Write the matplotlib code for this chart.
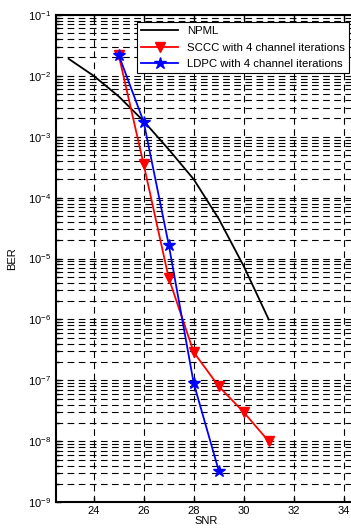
import matplotlib
matplotlib.use("Agg")
import matplotlib.pyplot as plt
from matplotlib.ticker import LogLocator, NullFormatter

# data
snr_npml = [23, 24, 25, 26, 27, 28, 29, 30, 31]
ber_npml = [1.9e-2, 1.0e-2, 4.6e-3, 1.8e-3, 6.2e-4, 2.0e-4, 4.5e-5, 7.5e-6, 1.0e-6]

snr_sccc = [25, 26, 27, 28, 29, 30, 31]
ber_sccc = [2.2e-2, 3.5e-4, 4.8e-6, 2.9e-7, 8.0e-8, 3.0e-8, 1.0e-8]

snr_ldpc = [25, 26, 27, 28, 29]
ber_ldpc = [2.2e-2, 1.75e-3, 1.7e-5, 9.0e-8, 3.3e-9]

labels = ['NPML', 'SCCC with 4 channel iterations', 'LDPC with 4 channel iterations']

plt.rcParams['font.family'] = ['Liberation Sans', 'DejaVu Sans']
plt.rcParams['font.size'] = 8

fig = plt.figure(figsize=(3.51, 5.32), dpi=100)
ax = fig.add_axes([0.16, 0.056, 0.855, 0.916])

ax.semilogy(snr_npml, ber_npml, color='black', lw=1.3, label=labels[0])
ax.semilogy(snr_sccc, ber_sccc, color='red', lw=1.3, marker='v', ms=7, label=labels[1])
ax.semilogy(snr_ldpc, ber_ldpc, color='blue', lw=1.3, marker='*', ms=9, label=labels[2])

ax.set_xlim(22.5, 34.5)
ax.set_ylim(1e-9, 1e-1)
ax.set_xticks([24, 26, 28, 30, 32, 34])
ax.set_yticks([10.0 ** e for e in range(-9, 0)])
ax.yaxis.set_minor_locator(LogLocator(base=10, subs=range(2, 10), numticks=20))
ax.yaxis.set_minor_formatter(NullFormatter())
ax.tick_params(which='both', direction='in', top=True, right=True, width=1)
ax.tick_params(which='minor', labelleft=False, labelbottom=False)
ax.tick_params(axis='x', pad=3)

ax.grid(True, which='major', ls=(0, (6, 4)), color='black', lw=0.8)
ax.grid(True, which='minor', axis='y', ls=(0, (6, 4)), color='black', lw=0.8)
for s in ax.spines.values():
    s.set_linewidth(1.5)

ax.set_xlabel('SNR', labelpad=0)
ax.set_ylabel('BER', labelpad=8)

leg = ax.legend(loc='upper right', fancybox=False, framealpha=1, edgecolor='black',
                borderaxespad=0.6, handlelength=3.2, labelspacing=0.55, fontsize=8.2)
leg.get_frame().set_linewidth(0.8)

fig.savefig('out.png', dpi=100)
